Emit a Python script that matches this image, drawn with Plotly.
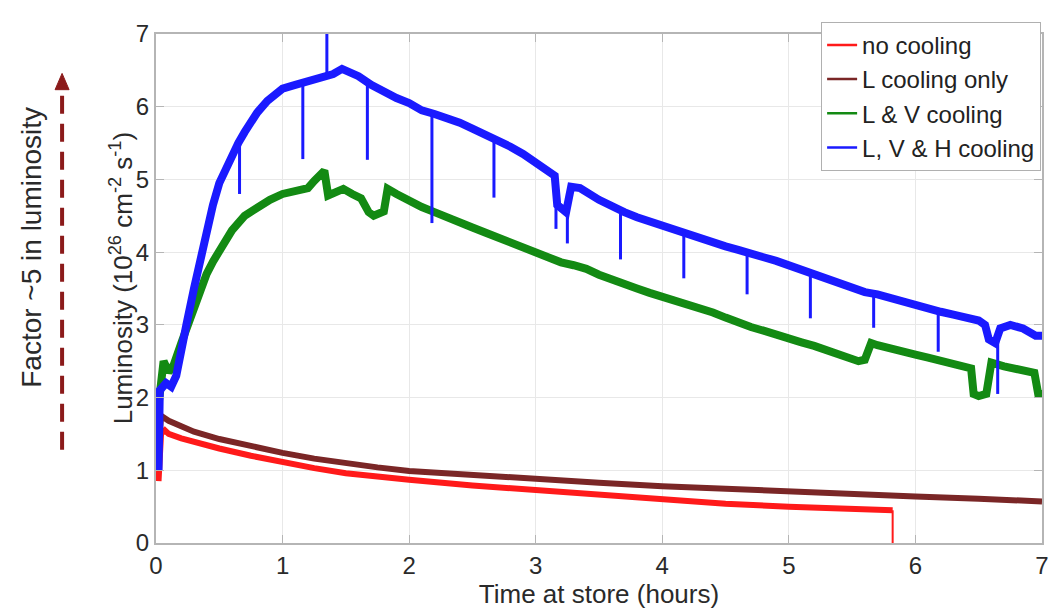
import plotly.graph_objects as go

# ---------------- data ----------------
# L, V & H cooling (blue) - main band
blue_t = [0.02, 0.03, 0.08, 0.12, 0.16, 0.20, 0.24, 0.30, 0.35, 0.40, 0.45, 0.50, 0.55, 0.60, 0.65,
          0.70, 0.75, 0.80, 0.88, 0.95, 1.00, 1.10, 1.20, 1.30, 1.40, 1.47, 1.55, 1.60, 1.70, 1.80,
          1.90, 2.00, 2.10, 2.20, 2.30, 2.40, 2.50, 2.60, 2.70, 2.80, 2.90, 3.00, 3.10, 3.15, 3.17,
          3.20, 3.24, 3.28, 3.35, 3.50, 3.60, 3.70, 3.80, 3.90, 4.00, 4.10, 4.20, 4.30, 4.40, 4.50,
          4.60, 4.70, 4.80, 4.90, 5.00, 5.10, 5.20, 5.30, 5.40, 5.50, 5.60, 5.70, 5.80, 5.90, 6.00,
          6.10, 6.20, 6.30, 6.40, 6.50, 6.55, 6.58, 6.63, 6.67, 6.75, 6.85, 6.95, 7.00]
blue_L = [1.00, 2.10, 2.20, 2.15, 2.30, 2.60, 3.00, 3.50, 3.92, 4.30, 4.65, 4.95, 5.15, 5.35, 5.50,
          5.65, 5.80, 5.92, 6.08, 6.18, 6.25, 6.30, 6.35, 6.40, 6.45, 6.52, 6.45, 6.42, 6.30, 6.20,
          6.12, 6.05, 5.95, 5.90, 5.85, 5.78, 5.70, 5.62, 5.55, 5.45, 5.35, 5.22, 5.10, 5.05, 4.65,
          4.60, 4.55, 4.90, 4.88, 4.72, 4.62, 4.55, 4.48, 4.42, 4.36, 4.30, 4.25, 4.20, 4.14, 4.08,
          4.03, 3.99, 3.93, 3.88, 3.82, 3.74, 3.69, 3.62, 3.56, 3.50, 3.45, 3.42, 3.37, 3.31, 3.26,
          3.21, 3.18, 3.14, 3.10, 3.06, 3.00, 2.80, 2.75, 2.95, 3.00, 2.95, 2.85, 2.85]
# blue short dips / spike: time, band level, extreme level
blue_dip_t = [0.66, 1.16, 1.35, 1.67, 2.18, 2.67, 3.16, 3.25, 3.67, 4.17, 4.67, 5.17, 5.67, 6.18, 6.65]
blue_dip_top = [5.50, 6.30, 6.40, 6.35, 5.90, 5.58, 5.00, 4.60, 4.58, 4.28, 4.00, 3.72, 3.43, 3.19, 2.90]
blue_dip_end = [4.80, 5.28, 7.30, 5.27, 4.40, 4.75, 4.32, 4.12, 3.90, 3.64, 3.42, 3.09, 2.96, 2.63, 2.05]

# L & V cooling (green)
green_t = [0.02, 0.04, 0.06, 0.10, 0.14, 0.20, 0.25, 0.30, 0.35, 0.40, 0.45, 0.50, 0.55, 0.60, 0.70,
           0.80, 0.90, 1.00, 1.10, 1.20, 1.25, 1.30, 1.33, 1.36, 1.42, 1.48, 1.55, 1.62, 1.68, 1.72,
           1.80, 1.83, 1.90, 2.00, 2.10, 2.20, 2.30, 2.40, 2.50, 2.60, 2.70, 2.80, 2.90, 3.00, 3.10,
           3.20, 3.30, 3.40, 3.50, 3.60, 3.70, 3.80, 3.90, 4.00, 4.10, 4.20, 4.30, 4.40, 4.50, 4.60,
           4.70, 4.80, 4.90, 5.00, 5.10, 5.20, 5.30, 5.40, 5.50, 5.55, 5.60, 5.65, 5.70, 5.80, 5.90,
           6.00, 6.10, 6.20, 6.30, 6.40, 6.44, 6.46, 6.50, 6.56, 6.60, 6.70, 6.80, 6.90, 6.94, 6.97, 7.00]
green_L = [1.90, 2.35, 2.50, 2.35, 2.45, 2.75, 3.00, 3.25, 3.50, 3.70, 3.87, 4.00, 4.15, 4.30, 4.50,
           4.62, 4.72, 4.80, 4.83, 4.88, 4.98, 5.05, 5.12, 4.78, 4.82, 4.87, 4.80, 4.74, 4.55, 4.50,
           4.56, 4.87, 4.80, 4.70, 4.62, 4.55, 4.47, 4.40, 4.34, 4.27, 4.20, 4.13, 4.06, 3.99, 3.92,
           3.86, 3.82, 3.77, 3.69, 3.62, 3.56, 3.50, 3.44, 3.39, 3.34, 3.29, 3.24, 3.17, 3.10, 3.03,
           2.97, 2.92, 2.86, 2.81, 2.76, 2.71, 2.65, 2.59, 2.54, 2.50, 2.52, 2.75, 2.72, 2.67, 2.63,
           2.59, 2.55, 2.51, 2.47, 2.43, 2.40, 2.05, 2.02, 2.05, 2.48, 2.43, 2.39, 2.37, 2.34, 2.05, 2.05]

# L cooling only (brown)
brown_t = [0.02, 0.04, 0.10, 0.20, 0.30, 0.50, 0.75, 1.00, 1.25, 1.50, 1.75, 2.00, 2.50, 3.00, 3.50,
           4.00, 4.50, 5.00, 5.50, 6.00, 6.50, 7.00]
brown_L = [1.20, 1.75, 1.68, 1.60, 1.53, 1.43, 1.33, 1.24, 1.16, 1.09, 1.04, 0.99, 0.93, 0.88, 0.83,
           0.78, 0.74, 0.70, 0.67, 0.64, 0.61, 0.57]

# no cooling (red)
red_t = [0.02, 0.04, 0.07, 0.10, 0.20, 0.30, 0.50, 0.75, 1.00, 1.25, 1.50, 1.75, 2.00, 2.50, 3.00,
         3.50, 4.00, 4.50, 5.00, 5.50, 5.82]
red_L = [0.85, 1.50, 1.55, 1.50, 1.44, 1.39, 1.30, 1.20, 1.11, 1.03, 0.96, 0.91, 0.87, 0.79, 0.73,
         0.66, 0.59, 0.54, 0.50, 0.47, 0.45]
red_end_t = [5.82, 5.82]
red_end_L = [0.45, 0.0]

series_names = ["no cooling", "L cooling only", "L &amp; V cooling", "L, V &amp; H cooling"]
tick_vals = [0, 1, 2, 3, 4, 5, 6, 7]

RED = "#ff1a1a"
BROWN = "#7a2626"
GREEN = "#138a13"
BLUE = "#1a1aff"
TXT = "#2a2a2a"
FONT = "Liberation Sans, Arial, sans-serif"
colors = [RED, BROWN, GREEN, BLUE]

fig = go.Figure()

fig.add_trace(go.Scatter(x=red_t, y=red_L, mode="lines", showlegend=False,
                         line=dict(color=RED, width=6)))
fig.add_trace(go.Scatter(x=red_end_t, y=red_end_L, mode="lines", showlegend=False,
                         line=dict(color=RED, width=2)))
fig.add_trace(go.Scatter(x=brown_t, y=brown_L, mode="lines", showlegend=False,
                         line=dict(color=BROWN, width=6)))
fig.add_trace(go.Scatter(x=green_t, y=green_L, mode="lines", showlegend=False,
                         line=dict(color=GREEN, width=8)))
fig.add_trace(go.Scatter(x=blue_t, y=blue_L, mode="lines", showlegend=False,
                         line=dict(color=BLUE, width=8)))
dx, dy = [], []
for t, a, b in zip(blue_dip_t, blue_dip_top, blue_dip_end):
    dx += [t, t, None]
    dy += [a, b, None]
fig.add_trace(go.Scatter(x=dx, y=dy, mode="lines", showlegend=False,
                         line=dict(color=BLUE, width=3)))

# legend entries (thin line samples like the reference)
for name, col in zip(series_names, colors):
    fig.add_trace(go.Scatter(x=[None], y=[None], mode="lines", name=name,
                             line=dict(color=col, width=2.5)))

axis_common = dict(
    range=[0, 7], tickvals=tick_vals, ticks="inside", ticklen=8,
    tickcolor="#b5b5b5", showline=True, linecolor="#b5b5b5", linewidth=2,
    mirror="ticks", showgrid=True, gridcolor="#e8e8e8", gridwidth=1,
    zeroline=False, tickfont=dict(size=24, color=TXT),
)

# page body has an 8px margin: figure is sized/offset to land on the reference pixels
fig.update_layout(
    width=1053, height=601,
    margin=dict(l=148, r=18, t=14, b=57),
    paper_bgcolor="white", plot_bgcolor="white",
    font=dict(family=FONT, color=TXT),
    xaxis=dict(**axis_common,
               title=dict(text="Time at store (hours)", font=dict(size=26), standoff=0)),
    yaxis=dict(**axis_common),
    legend=dict(x=0.999, y=1.024, xanchor="right", yanchor="top",
                bgcolor="white", bordercolor="#b0b0b0", borderwidth=1,
                font=dict(size=24, color="#222222"), itemwidth=30,
                tracegroupgap=0),
    showlegend=True,
)

fig.add_annotation(text="Luminosity (10<sup>26</sup> cm<sup>-2</sup> s<sup>-1</sup>)",
                   xref="paper", yref="paper", x=0, y=0.52, xshift=-35,
                   textangle=-90, showarrow=False, xanchor="center", yanchor="middle",
                   font=dict(size=26, color=TXT))
fig.add_annotation(text="Factor ~5 in luminosity",
                   xref="paper", yref="paper", x=0, y=0.58, xshift=-124,
                   textangle=-90, showarrow=False, xanchor="center", yanchor="middle",
                   font=dict(size=28, color=TXT))

# dashed arrow on the left
AX = -0.106
fig.add_shape(type="line", xref="paper", yref="paper",
              x0=AX, x1=AX, y0=0.183, y1=0.885,
              line=dict(color="#8b1a1a", width=4, dash="18px,10px"))
fig.add_shape(type="path", xref="paper", yref="paper",
              path=f"M {AX-0.0079} 0.8906 L {AX} 0.9226 L {AX+0.0079} 0.8906 Z",
              fillcolor="#8b1a1a", line=dict(color="#8b1a1a", width=1))

fig.write_html("out.html")
